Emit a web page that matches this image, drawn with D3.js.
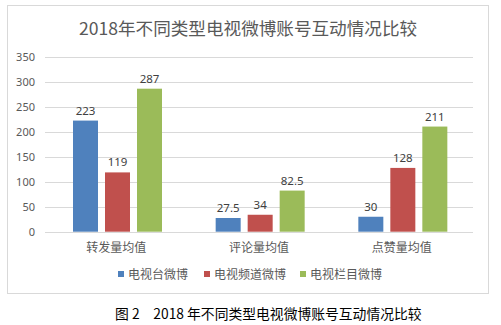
<!DOCTYPE html>
<html><head><meta charset="utf-8">
<script src="https://cdn.jsdelivr.net/npm/d3@7"></script>
<style>
body{margin:0;background:#fff;}
svg{display:block;font-family:"Noto Sans CJK SC","Noto Sans",sans-serif;}
</style></head>
<body><svg id="c" width="501" height="325"></svg>
<script>
const categories = ["转发量均值","评论量均值","点赞量均值"];
const seriesNames = ["电视台微博","电视频道微博","电视栏目微博"];
const colors = ["#4f81bd","#c0504d","#9bbb59"];
const tvStation = [223, 27.5, 30];
const tvChannel = [119, 34, 128];
const tvProgram = [287, 82.5, 211];
const yTicks = [0,50,100,150,200,250,300,350];
const title = "2018年不同类型电视微博账号互动情况比较";
const caption = "图 2　2018 年不同类型电视微博账号互动情况比较";

const values = [tvStation, tvChannel, tvProgram];
const svg = d3.select("#c");

svg.append("rect").attr("x",7.5).attr("y",5.5).attr("width",481).attr("height",288)
  .attr("fill","#fff").attr("stroke","#d9d9d9");

svg.append("text").attr("x",248).attr("y",35).attr("text-anchor","middle")
  .attr("font-size",17.6).attr("fill","#595959").text(title);

const y = d3.scaleLinear().domain([0,350]).range([231.7,57.3]);
const x0 = d3.scaleBand().domain(categories).range([45,473]).paddingInner(0).paddingOuter(0);
const x1 = d3.scaleBand().domain(d3.range(3)).range([28,28+89]).paddingInner(7/32).paddingOuter(0);

const g = svg.append("g");
g.selectAll("line.grid").data(yTicks).join("line")
  .attr("x1",45).attr("x2",473)
  .attr("y1",d=>Math.round(y(d))+0.5).attr("y2",d=>Math.round(y(d))+0.5)
  .attr("stroke","#d9d9d9").attr("stroke-width",1);

const yAxis = d3.axisLeft(y).tickValues(yTicks).tickSize(0).tickPadding(0);
const ya = svg.append("g").attr("transform","translate(35,0)").call(yAxis);
ya.select(".domain").remove();
ya.selectAll("text").attr("font-size",11).attr("fill","#595959")
  .attr("font-family","'Noto Sans','DejaVu Sans',sans-serif");

categories.forEach((c,i)=>{
  const cg = svg.append("g").attr("transform",`translate(${x0(c)},0)`);
  values.forEach((arr,s)=>{
    cg.append("rect").attr("x",x1(s)).attr("width",x1.bandwidth())
      .attr("y",y(arr[i])).attr("height",y(0)-y(arr[i])).attr("fill",colors[s]);
    cg.append("text").attr("x",x1(s)+x1.bandwidth()/2).attr("y",y(arr[i])-6)
      .attr("text-anchor","middle").attr("font-size",11.5).attr("fill","#404040")
      .attr("font-family","'Noto Sans','DejaVu Sans',sans-serif")
      .text(arr[i]);
  });
});

const xAxis = d3.axisBottom(x0).tickSize(0).tickPadding(0);
const xa = svg.append("g").attr("transform","translate(0,252)").call(xAxis);
xa.select(".domain").remove();
xa.selectAll("text").attr("font-size",12).attr("fill","#595959").attr("dy",0)
  .attr("font-family","'Noto Sans CJK SC',sans-serif");

const legX = [118, 204, 300];
seriesNames.forEach((n,s)=>{
  svg.append("rect").attr("x",legX[s]).attr("y",271).attr("width",6).attr("height",6).attr("fill",colors[s]);
  svg.append("text").attr("x",legX[s]+10).attr("y",278.5).attr("font-size",12).attr("fill","#595959").text(n);
});

svg.append("text").attr("x",115).attr("y",319).attr("font-size",13.8).attr("fill","#000").text(caption);
</script></body></html>
